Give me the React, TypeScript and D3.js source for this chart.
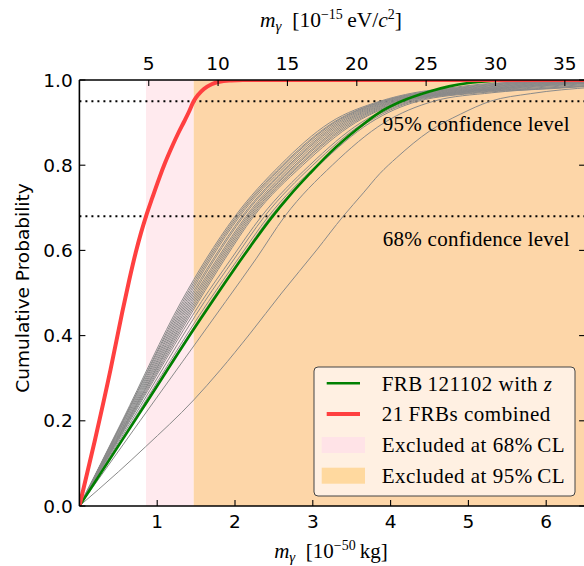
import React from 'react';
import * as d3 from 'd3';

// ---- axis / reference values ----
const KG_TICKS = [1, 2, 3, 4, 5, 6];
const EV_TICKS = [5, 10, 15, 20, 25, 30, 35];
const PROB_TICKS = [0, 0.2, 0.4, 0.6, 0.8, 1.0];
const KG_PER_EV = 0.17827; // 1e-15 eV/c^2 expressed in 1e-50 kg
const X_MAX = 6.5;
const CL_LEVELS = [0.95, 0.68];
const CL_LABELS = ['95% confidence level', '68% confidence level'];
const EXCL_68 = 0.856;
const EXCL_95 = 1.469;

// ---- 21 FRBs combined (red) ----
const RED_X = [0, 0.2, 0.4, 0.551, 0.64, 0.724, 0.79, 0.856, 0.94, 1.023, 1.1, 1.194, 1.27, 1.345, 1.41, 1.469, 1.53, 1.6, 1.7, 1.8, 1.95, 2.1, 6.6];
const RED_Y = [0, 0.155, 0.32, 0.455, 0.53, 0.595, 0.64, 0.68, 0.725, 0.768, 0.805, 0.845, 0.875, 0.902, 0.926, 0.95, 0.966, 0.979, 0.99, 0.996, 0.999, 1.0, 1.0];

// ---- FRB 121102 with z (green) ----
const GREEN_X = [0, 0.8, 1.55, 1.98, 2.2, 2.47, 2.7, 2.96, 3.22, 3.6, 3.86, 4.14, 4.5, 4.75, 5.0, 5.34, 5.6, 6.6];
const GREEN_Y = [0, 0.225, 0.437, 0.553, 0.61, 0.677, 0.728, 0.78, 0.829, 0.889, 0.924, 0.95, 0.973, 0.985, 0.993, 0.998, 1.0, 1.0];

// ---- lowest individual FRB (gray) ----
const LOW_X = [0, 0.5, 0.85, 1.47, 1.81, 2.19, 2.6, 3.05, 3.39, 3.65, 3.86, 4.08, 4.5, 4.9, 5.28, 5.8, 6.6];
const LOW_Y = [0, 0.08, 0.139, 0.249, 0.319, 0.404, 0.5, 0.601, 0.68, 0.735, 0.78, 0.818, 0.88, 0.92, 0.95, 0.968, 0.983];

// ---- other individual FRBs (gray): x at these probability levels ----
const GRAY_LEVELS = [0, 0.2, 0.48, 0.58, 0.68, 0.8, 0.9, 0.95, 0.97, 0.98, 0.99, 0.995, 0.999];
const GRAY_CURVES_X = [
  [0, 0.55, 1.31, 1.63, 2.0, 2.58, 3.22, 3.86, 4.3, 4.7, 5.15, 5.6, 7.0],
  [0, 0.56, 1.33, 1.65, 2.02, 2.61, 3.26, 3.89, 4.36, 4.78, 5.25, 5.75, 7.2],
  [0, 0.56, 1.35, 1.67, 2.04, 2.63, 3.28, 3.91, 4.4, 4.84, 5.35, 5.9, 7.4],
  [0, 0.57, 1.37, 1.69, 2.06, 2.66, 3.31, 3.94, 4.45, 4.9, 5.45, 6.0, 7.6],
  [0, 0.58, 1.39, 1.72, 2.09, 2.69, 3.34, 3.97, 4.5, 4.97, 5.55, 6.15, 7.8],
  [0, 0.59, 1.41, 1.74, 2.11, 2.71, 3.37, 4.0, 4.55, 5.05, 5.65, 6.3, 8.0],
  [0, 0.6, 1.43, 1.77, 2.14, 2.74, 3.4, 4.03, 4.6, 5.12, 5.75, 6.45, 8.2],
  [0, 0.61, 1.45, 1.79, 2.16, 2.77, 3.43, 4.06, 4.65, 5.2, 5.85, 6.6, 8.4],
  [0, 0.62, 1.47, 1.81, 2.18, 2.79, 3.46, 4.09, 4.7, 5.28, 5.95, 6.75, 8.6],
  [0, 0.62, 1.49, 1.83, 2.2, 2.82, 3.49, 4.12, 4.75, 5.35, 6.05, 6.9, 8.8],
  [0, 0.63, 1.51, 1.85, 2.22, 2.84, 3.52, 4.15, 4.8, 5.42, 6.15, 7.0, 9.0],
  [0, 0.64, 1.53, 1.87, 2.24, 2.87, 3.55, 4.18, 4.85, 5.5, 6.25, 7.1, 9.2],
  [0, 0.65, 1.57, 1.95, 2.34, 2.96, 3.62, 4.22, 4.9, 5.6, 6.4, 7.3, 9.4],
  [0, 0.67, 1.61, 1.99, 2.38, 3.0, 3.66, 4.26, 4.97, 5.75, 6.6, 7.5, 9.6],
  [0, 0.69, 1.66, 2.04, 2.43, 3.05, 3.7, 4.3, 5.05, 5.9, 6.8, 7.7, 9.8],
  [0, 0.7, 1.69, 2.07, 2.46, 3.08, 3.74, 4.35, 5.15, 6.1, 7.0, 8.0, 10.0],
  [0, 0.78, 1.88, 2.27, 2.64, 3.25, 3.92, 4.55, 5.3, 6.0, 7.0, 8.0, 10.0],
];

const LEGEND_LABELS = ['FRB\u2009121102 with ', '21\u2009FRBs combined', 'Excluded at 68%\u2009CL', 'Excluded at 95%\u2009CL'];

const W = 584;
const H = 566;
const L = 79.4;
const R = 585.1;
const T = 80;
const B = 506;

const SERIF = '"Liberation Serif", "Times New Roman", serif';
const SANS = '"DejaVu Sans", sans-serif';

export default function App() {
  const x = d3.scaleLinear().domain([0, X_MAX]).range([L, R]);
  const xTop = d3.scaleLinear().domain([0, X_MAX / KG_PER_EV]).range([L, R]);
  const y = d3.scaleLinear().domain([0, 1]).range([B, T]);

  const line = d3
    .line<[number, number]>()
    .x((d) => x(d[0]))
    .y((d) => y(d[1]))
    .curve(d3.curveMonotoneX);

  const zip = (xs: number[], ys: number[]) => xs.map((v, i) => [v, ys[i]] as [number, number]);

  const pink = '#ffeaee';
  const orange = '#fdd6a8';

  return (
    <div style={{ position: 'absolute', left: 0, top: 0 }}>
      <svg width={W} height={H} style={{ display: 'block', background: '#fff' }}>
        <defs>
          <clipPath id="plot">
            <rect x={L} y={T} width={R - L} height={B - T} />
          </clipPath>
        </defs>
        <g clipPath="url(#plot)">
          <rect x={x(EXCL_68)} y={T} width={x(EXCL_95) - x(EXCL_68)} height={B - T} fill={pink} />
          <rect x={x(EXCL_95)} y={T} width={R - x(EXCL_95)} height={B - T} fill={orange} />
          {CL_LEVELS.map((c) => (
            <line key={c} x1={L} x2={R} y1={y(c)} y2={y(c)} stroke="#000" strokeWidth={2} strokeDasharray="2 4" />
          ))}
          {GRAY_CURVES_X.map((xs, i) => (
            <path key={i} d={line(zip(xs, GRAY_LEVELS)) || ''} fill="none" stroke="#8a8a8a" strokeWidth={1} />
          ))}
          <path d={line(zip(LOW_X, LOW_Y)) || ''} fill="none" stroke="#8a8a8a" strokeWidth={1} />
          <path d={line(zip(GREEN_X, GREEN_Y)) || ''} fill="none" stroke="#008000" strokeWidth={2.6} />
          <path d={line(zip(RED_X, RED_Y)) || ''} fill="none" stroke="#ff4040" strokeWidth={4} strokeLinejoin="round" />
          {CL_LEVELS.map((c, i) => (
            <text key={c} x={x(3.9)} y={y(c) + 29.5} fontFamily={SERIF} fontSize={21} letterSpacing={0.25} fill="#000">
              {CL_LABELS[i]}
            </text>
          ))}
        </g>

        {/* legend */}
        <g>
          <rect x={314} y={367} width={261} height={129} rx={4} fill="#fff0e2" stroke="#444" strokeWidth={1} />
          <line x1={326.7} x2={360} y1={383.3} y2={383.3} stroke="#008000" strokeWidth={2.6} />
          <line x1={326.7} x2={360} y1={414} y2={414} stroke="#ff4040" strokeWidth={4} />
          <rect x={321.7} y={437} width={43.3} height={16} fill="#ffe3e7" />
          <rect x={321.7} y={467.7} width={43.3} height={16} fill="#ffd99f" />
          {LEGEND_LABELS.map((t, i) => (
            <text key={i} x={381.7} y={390.5 + i * 30.8} fontFamily={SERIF} fontSize={21} letterSpacing={0.5} fill="#000">
              {t}
              {i === 0 ? <tspan fontStyle="italic">z</tspan> : null}
            </text>
          ))}
        </g>

        {/* spines */}
        <g stroke="#000" strokeWidth={1.6} fill="none">
          <line x1={L} x2={R} y1={T} y2={T} />
          <line x1={L} x2={R} y1={B} y2={B} />
          <line x1={L} x2={L} y1={T} y2={B} />
          <line x1={R} x2={R} y1={T} y2={B} />
        </g>

        {/* ticks */}
        <g stroke="#000" strokeWidth={1.1}>
          {PROB_TICKS.map((t) => (
            <g key={t}>
              <line x1={L} x2={L + 6} y1={y(t)} y2={y(t)} />
              <line x1={R} x2={R - 6} y1={y(t)} y2={y(t)} />
            </g>
          ))}
          {KG_TICKS.map((t) => (
            <line key={t} x1={x(t)} x2={x(t)} y1={B} y2={B - 6} />
          ))}
          {EV_TICKS.map((t) => (
            <line key={t} x1={xTop(t)} x2={xTop(t)} y1={T} y2={T + 6} />
          ))}
        </g>

        {/* tick labels */}
        <g fontFamily={SANS} fontSize={18.5} fill="#000">
          {PROB_TICKS.map((t) => (
            <text key={t} x={72.7} y={y(t)} textAnchor="end" dominantBaseline="central">
              {t.toFixed(1)}
            </text>
          ))}
          {KG_TICKS.map((t) => (
            <text key={t} x={x(t)} y={528} textAnchor="middle">
              {t}
            </text>
          ))}
          {EV_TICKS.map((t) => (
            <text key={t} x={xTop(t)} y={70} textAnchor="middle">
              {t}
            </text>
          ))}
        </g>

        {/* axis titles */}
        <text
          transform="translate(22.5,288) rotate(-90)"
          textAnchor="middle"
          dominantBaseline="central"
          fontFamily={SANS}
          fontSize={18.5}
          fill="#000"
        >
          Cumulative Probability
        </text>
        <text x={331} y={558} textAnchor="middle" fontFamily={SERIF} fontSize={21} fill="#000">
          <tspan fontStyle="italic">m</tspan>
          <tspan fontStyle="italic" fontSize={15} dy={4}>γ</tspan>
          <tspan dy={-4}>{'\u2002[10'}</tspan>
          <tspan fontSize={14} dy={-8}>−50</tspan>
          <tspan dy={8}>{'\u2009kg]'}</tspan>
        </text>
        <text x={331} y={27} textAnchor="middle" fontFamily={SERIF} fontSize={21.5} fill="#000">
          <tspan fontStyle="italic">m</tspan>
          <tspan fontStyle="italic" fontSize={15} dy={4}>γ</tspan>
          <tspan dy={-4}>{'\u2002[10'}</tspan>
          <tspan fontSize={14} dy={-8}>−15</tspan>
          <tspan dy={8}>{'\u2009eV/'}</tspan>
          <tspan fontStyle="italic">c</tspan>
          <tspan fontSize={14} dy={-8}>2</tspan>
          <tspan dy={8}>]</tspan>
        </text>
      </svg>
    </div>
  );
}
